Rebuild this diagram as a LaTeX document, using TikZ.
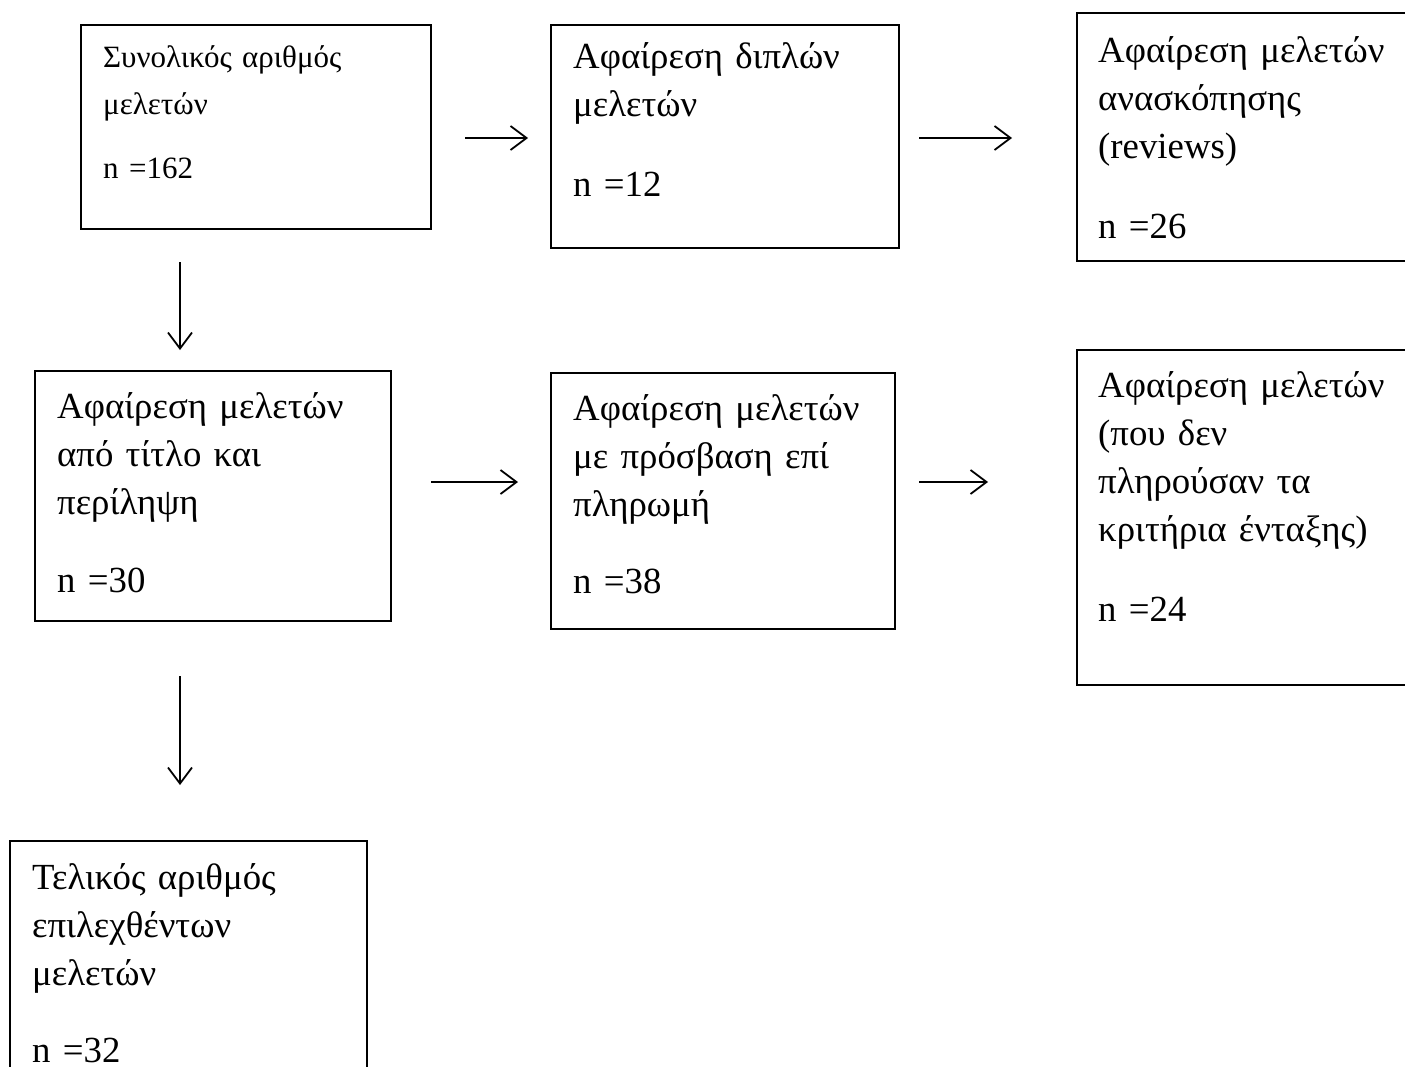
\documentclass[tikz,border=0pt]{standalone}
\usepackage{fontspec}
\setmainfont{Liberation Serif}
\usetikzlibrary{arrows.meta,calc}
\newcommand\fsLarge{\fontsize{36.8}{48}\selectfont}
\newcommand\fsSmall{\fontsize{31}{47}\selectfont}
\begin{document}
\begin{tikzpicture}[x=1pt,y=-1pt,
  box/.style={draw=black,line width=1.4pt,anchor=north west,inner sep=0pt,outer sep=0pt},
  txt/.style={anchor=north west,inner sep=0pt,align=left,text width=#1},
  arr/.style={line width=1.8pt,-{Straight Barb[length=16pt,width=24pt]}}
]
\useasboundingbox (0,0) rectangle (1405,1066);
\clip (0,0) rectangle (1405,1066);

% boxes
\node[box,minimum width=350pt,minimum height=204pt] (b1) at (81,25) {};
\node[box,minimum width=348pt,minimum height=223pt] (b2) at (551,25) {};
\node[box,minimum width=345pt,minimum height=248pt] (b3) at (1077,13) {};
\node[box,minimum width=356pt,minimum height=250pt] (b4) at (35,371) {};
\node[box,minimum width=344pt,minimum height=256pt] (b5) at (551,373) {};
\node[box,minimum width=345pt,minimum height=335pt] (b6) at (1077,350) {};
\node[box,minimum width=357pt,minimum height=250pt] (b7) at (10,841) {};

% texts
\node[txt=330pt,font=\fsSmall] (t1) at ($(b1.north west)+(22,9)$)
  {\strut Συνολικός αριθμός\\ μελετών\\[17pt] n =162};
\node[txt=330pt,font=\fsLarge] (t2) at ($(b2.north west)+(22,10)$)
  {\strut Αφαίρεση διπλών\\ μελετών\\[32pt] n =12};
\node[txt=330pt,font=\fsLarge] (t3) at ($(b3.north west)+(21,15.5)$)
  {\strut Αφαίρεση μελετών\\ ανασκόπησης\\ (reviews)\\[32pt] n =26};
\node[txt=340pt,font=\fsLarge] (t4) at ($(b4.north west)+(22,13.5)$)
  {\strut Αφαίρεση μελετών\\ από τίτλο και\\ περίληψη\\[30pt] n =30};
\node[txt=330pt,font=\fsLarge] (t5) at ($(b5.north west)+(22,14)$)
  {\strut Αφαίρεση μελετών\\ με πρόσβαση επί\\ πληρωμή\\[29pt] n =38};
\node[txt=330pt,font=\fsLarge] (t6) at ($(b6.north west)+(21,14)$)
  {\strut Αφαίρεση μελετών\\ (που δεν\\ πληρούσαν τα\\ κριτήρια ένταξης)\\[32pt] n =24};
\node[txt=340pt,font=\fsLarge] (t7) at ($(b7.north west)+(22,15)$)
  {\strut Τελικός αριθμός\\ επιλεχθέντων\\ μελετών\\[29pt] n =32};

% connectors
\draw[arr] ($(b1.north east)+(34,113)$) -- ($(b2.north west)+(-23,113)$);
\draw[arr] ($(b2.north east)+(20,113)$) -- ($(b3.north west)+(-65,125)$);
\draw[arr] ($(b1.south west)+(99,33)$) -- ($(b4.north west)+(145,-21)$);
\draw[arr] ($(b4.north east)+(40,111)$) -- ($(b5.north west)+(-33,109)$);
\draw[arr] ($(b5.north east)+(24,109)$) -- ($(b6.north west)+(-89,132)$);
\draw[arr] ($(b4.south west)+(145,55)$) -- ($(b7.north west)+(170,-56)$);
\end{tikzpicture}
\end{document}
